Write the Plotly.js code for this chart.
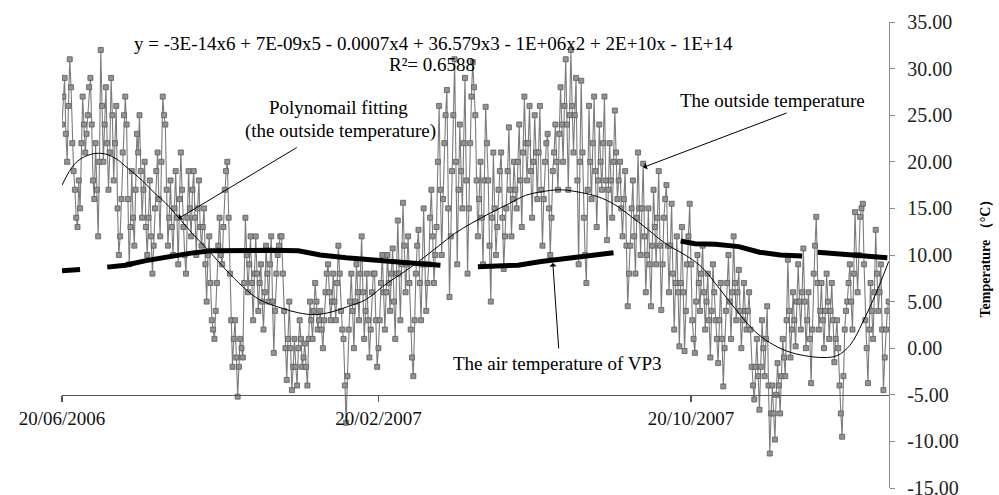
<!DOCTYPE html>
<html>
<head>
<meta charset="utf-8">
<script src="https://cdn.plot.ly/plotly-3.0.1.min.js"></script>
<style>html,body{margin:0;padding:0;background:#fff;}</style>
</head>
<body>
<div id="chart" style="width:999px;height:495px;"></div>
<script>
// ---- data ----
const startDate = '2006-06-20';
const stepDays = 1;
// outside temperature, one value per day starting 20/06/2006 (10 values per row)
const outsideTemp = [
24, 27, 29, 23, 20, 26, 31, 28, 22, 19,
17, 14, 13, 18, 15, 22, 27, 24, 21, 23,
25, 28, 29, 24, 18, 16, 22, 17, 12, 20,
32, 26, 20, 24, 28, 22, 17, 21, 29, 25,
18, 22, 26, 15, 10, 12, 16, 21, 25, 27,
24, 16, 9, 13, 19, 14, 11, 17, 23, 21,
25, 19, 14, 17, 20, 13, 10, 14, 18, 12,
8, 11, 15, 19, 21, 16, 12, 20, 27, 25,
24, 17, 11, 14, 18, 13, 10, 15, 19, 14,
9, 16, 21, 17, 13, 10, 8, 14, 19, 15,
12, 17, 19, 14, 10, 15, 18, 13, 11, 13,
15, 9, 5, 10, 12, 7, 3, 2, 1, 4,
7, 11, 14, 10, 9, 13, 17, 19, 20, 14,
8, 3, -2, 1, 3, -1, -5.2, -2, 1, 0,
-1, 7, 14, 10, 6, 9, 12, 7, 3, 8,
12, 8, 4, 7, 9, 5, 2, 6, 11, 8,
5, 9, 12, 5, -0.5, 4, 8, 10, 11, 12,
12, 8, 4, 0, -3.4, 1, 5, 0, -4.5, -2,
1, -2, -4, 0, 3, 1, -2, -1, 0.5, -2,
-4, 1, 5, 3, 1, 4, 7, 5, 2, 3,
4, 2, 0, 3, 6, 8, 9, 6, 3, 5,
8, 5, 3, 7, 11, 8, 4, 2, 1, -4,
-8, -3, 2, 5, 8, 4, 0, 5, 9, 6,
3, 8, 12, 6, 1, 4, 8, 3, -1, 2,
6, 8, 8, 3, -2, 0, 3, 7, 10, 6,
2, 6, 10, 7, 4, 8, 10.7, 5, 1, 8,
13.7, 8, 3, 9, 15.6, 11, 6, 9, 12, 7,
2, -1, -3, 3, 8, 11, 12.7, 7, 3, 9,
15, 9, 4, 7, 9, 14, 17, 12, 7, 10,
13, 20, 26, 17, 10, 16, 22, 25, 27.7, 15,
5.5, 12, 19, 25, 31, 20, 9, 17, 24, 19,
15, 22, 29, 18, 8, 15, 22, 27, 30.7, 28,
25, 18, 12, 16, 20, 14, 9, 18, 25.9, 22,
18, 11, 5, 14, 21, 15, 10, 13, 17, 19,
21, 14, 8.5, 12, 15, 19, 23.7, 17, 12, 16,
20, 17, 15, 20, 24, 18, 13, 21, 27, 22,
18, 22, 26, 19, 14, 20, 25, 21, 16, 21,
26, 17, 11, 16, 20, 22, 23, 15, 10, 14,
19, 21, 24, 20, 17, 23, 28, 24, 20, 26,
31, 24, 17, 25, 32, 26, 21, 25, 29, 18,
9, 20, 28.7, 21, 14, 10, 7, 17, 26, 20,
16, 22, 27, 19, 13, 18, 24, 20, 17, 22,
27, 18, 11.6, 17, 22, 18, 14, 20, 25.5, 21,
16, 18, 20, 15, 12, 16, 19, 11, 4.5, 8,
11, 15, 18, 12, 8, 14, 21, 15, 10, 15,
19.8, 12, 6, 10, 15, 9, 4.5, 11, 17, 13,
9, 14, 19, 11, 4.1, 9, 14, 16, 17.5, 11,
6, 11, 15.5, 8, 2, 7, 12, 6, 0.2, 7,
13, 6, -0.3, 4, 9, 12, 15.5, 9, 3, 1,
-0.5, 5, 10, 7, 4, 8, 11, 6, 2, 5,
8, 3, -1, 4, 9, 6, 3, 1, -1.6, 3,
7, 1, -4.1, 0, 4, 7, 10, 5, 1, 6,
12, 7, 3, 6, 8.4, 4, 0, 3, 7, 4,
2, 4, 6, 2, -2, -4, -5.5, -2, 1, -3,
-6.6, -2, 3, 0, -3, 1, 4.5, -4, -11.3, -7,
-4, -7, -9.8, -5, -1.6, -4, -7, -3, 1, -1,
-3, 3, 9.5, 4, -1, 2, 6, 3, 0.2, 5,
9, 5, 2, 6, 10.7, 5, 0, 3, 6, 1,
-3.75, 2, 8, 11, 14.1, 7, 2, 4, 7, 3,
0, 4, 8, 5, 1, 4, 7, 3, -1.5, 1,
3, 0, -4, -7, -9.5, -3, 2, 4, 5, 7,
9, 5, 2, 8, 14.6, 10, 6, 10, 14.1, 15,
15.5, 9, 3, 0, -3.75, 2, 7, 4, 1, 6,
12.7, 8, 4, 6, 9, 2, -4.5, -1, 2, 4,
5
];
// air temperature of VP3 (day offset from start, value); null = gap
const vp3Days = [0, 7, 14, null, 35, 49, 65, 80, 100, 115, 140, 161, 183, 200, 220, 243, 265, 293, null,
                 322, 353, 371, 390, 405, 427, null, 479, 490, 506, 524, 540, 556, 573, null, 585, 603, 620, 639];
const vp3Temp = [8.3, 8.35, 8.45, null, 8.7, 8.9, 9.4, 9.8, 10.2, 10.45, 10.5, 10.5, 10.45, 10.0, 9.7, 9.4, 9.2, 8.9, null,
                 8.75, 8.9, 9.3, 9.6, 9.8, 10.25, null, 11.5, 11.2, 11.15, 10.9, 10.3, 10.0, 9.9, null, 10.3, 10.1, 9.9, 9.7];
// polynomial trend line of the outside temperature
const fitDays = [0, 10, 20, 31, 41, 51, 62, 72, 80, 91, 101, 114, 127, 140, 153, 170, 183, 196, 209, 222, 235,
                 252, 265, 278, 291, 304, 317, 333, 346, 359, 372, 385, 398, 415, 428, 441, 454, 467, 480, 487,
                 496, 509, 522, 535, 548, 561, 575, 590, 600, 610, 620, 630, 640];
const fitTemp = [17.5, 19.8, 20.7, 20.9, 20.4, 19.3, 18, 16.6, 15.6, 13.9, 12.3, 10.4, 8.4, 6.6, 5.2, 4.3, 3.8, 3.6, 3.9, 4.5, 5.2,
                 7, 8.2, 9.5, 10.9, 12.3, 13.4, 14.6, 15.5, 16.4, 16.8, 17, 16.8, 16.25, 15.4, 14.1, 12.7, 11.25, 10.2, 9.6,
                 8.6, 6.4, 4.1, 2, 0.6, -0.3, -0.8, -1.0, -0.8, 0.3, 2.8, 5.8, 9.3];
const xTickDates = ['2006-06-20', '2007-02-20', '2007-10-20'];
const xTickLabels = ['20/06/2006', '20/02/2007', '20/10/2007'];
const yTickValues = [-15, -10, -5, 0, 5, 10, 15, 20, 25, 30, 35];
const yTickLabels = ['-15.00', '-10.00', '-5.00', '0.00', '5.00', '10.00', '15.00', '20.00', '25.00', '30.00', '35.00'];
const equationText = 'y = -3E-14x6 + 7E-09x5 - 0.0007x4 + 36.579x3 - 1E+06x2 + 2E+10x - 1E+14';
const r2Text = 'R²= 0.6588';

// ---- helpers ----
const t0 = Date.parse(startDate + 'T00:00:00Z');
function dayToDate(d) {
  if (d === null) return null;
  return new Date(t0 + d * 86400000).toISOString().replace('T', ' ').replace('Z', '');
}
const outsideX = outsideTemp.map((_, i) => dayToDate(i * stepDays));
const vp3X = vp3Days.map(dayToDate);
const fitX = fitDays.map(dayToDate);

const serif = 'Liberation Serif, Times New Roman, serif';

const traces = [
  { type: 'scatter', mode: 'lines+markers', x: outsideX, y: outsideTemp,
    line: { color: '#7c7c7c', width: 1.1 },
    marker: { symbol: 'square', size: 5, color: '#939393', line: { color: '#5a5a5a', width: 0.8 } },
    hoverinfo: 'skip' },
  { type: 'scatter', mode: 'lines', x: vp3X, y: vp3Temp, connectgaps: false,
    line: { color: '#000', width: 5 }, hoverinfo: 'skip' },
  { type: 'scatter', mode: 'lines', x: fitX, y: fitTemp,
    line: { color: '#000', width: 1, shape: 'spline' }, hoverinfo: 'skip' }
];

const W = 999, H = 495, L = 62, R = 110, T = 22, B = 7;
const pw = W - L - R, ph = H - T - B;
function px(x) { return (x - L) / pw; }
function py(y) { return (H - B - y) / ph; }
const txtFont = { family: serif, size: 19, color: '#000' };

const annotations = [
  { text: equationText, x: px(433), y: py(43) },
  { text: r2Text, x: px(432), y: py(65) },
  { text: 'Polynomail fitting', x: px(338), y: py(108) },
  { text: '(the outside temperature)', x: px(340), y: py(131) },
  { text: 'The outside temperature', x: px(772), y: py(100) },
  { text: 'The air temperature of VP3', x: px(557), y: py(363) }
].map(a => Object.assign({ xref: 'paper', yref: 'paper', showarrow: false, xanchor: 'center', yanchor: 'middle', font: txtFont }, a));

const arrows = [
  { x: dayToDate(90), y: 13.9, ax: 120, ay: -72 },
  { x: dayToDate(450), y: 19.4, ax: 145, ay: -55 },
  { x: dayToDate(380), y: 9.15, ax: 6, ay: 87 }
].map(a => Object.assign({ xref: 'x', yref: 'y', text: '', showarrow: true, arrowhead: 1, arrowsize: 1.2, arrowwidth: 1, arrowcolor: '#000', standoff: 0 }, a));

const layout = {
  width: W, height: H,
  margin: { l: L, r: R, t: T, b: B },
  paper_bgcolor: '#fff', plot_bgcolor: '#fff',
  showlegend: false,
  xaxis: {
    type: 'date',
    range: [dayToDate(0), dayToDate(640.3)],
    anchor: 'free', position: 0.2,
    showline: true, linecolor: '#555', linewidth: 1.5,
    ticks: 'outside', ticklen: 6, tickcolor: '#555', tickwidth: 1.2,
    tickmode: 'array', tickvals: xTickDates, ticktext: xTickLabels,
    showgrid: false, zeroline: false,
    tickfont: { family: serif, size: 19, color: '#111' }
  },
  yaxis: {
    side: 'right', range: [-15, 35],
    tickmode: 'array', tickvals: yTickValues, ticktext: yTickLabels,
    showline: true, linecolor: '#8c8c8c', linewidth: 1.2,
    ticks: 'outside', ticklen: 5, tickcolor: '#8c8c8c',
    ticklabelstandoff: 8, ticklabeloverflow: 'allow',
    showgrid: false, zeroline: false,
    tickfont: { family: serif, size: 20, color: '#222' },
    title: { text: 'Temperature （°C）', standoff: 22, font: { family: serif, size: 14, color: '#000', weight: 'bold' } }
  },
  annotations: annotations.concat(arrows)
};

Plotly.newPlot('chart', traces, layout, { staticPlot: true, displayModeBar: false });
</script>
</body>
</html>
